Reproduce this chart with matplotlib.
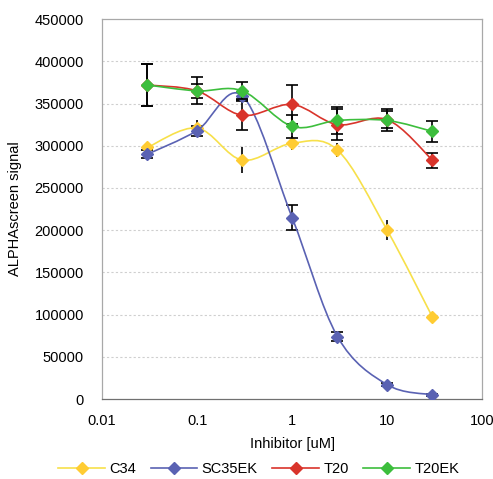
import numpy as np
import matplotlib.pyplot as plt
from matplotlib.path import Path
from matplotlib.patches import PathPatch
from matplotlib.lines import Line2D

# ----- data -----
conc = [0.03, 0.1, 0.3, 1, 3, 10, 30]

c34 = [298000, 321000, 283000, 303000, 295000, 200000, 97000]
c34_err = [7000, 9000, 15000, 8000, 8000, 12000, 4000]

sc35ek = [290000, 318000, 359000, 215000, 74000, 17000, 5000]
sc35ek_err = [5000, 6000, 5000, 15000, 5000, 2000, 1000]

t20 = [372000, 365000, 336000, 349000, 325000, 331000, 283000]
t20_err = [25000, 16000, 17000, 23000, 18000, 10000, 9000]

t20ek = [372000, 365000, 365000, 323000, 330000, 330000, 317000]
t20ek_err = [25000, 8000, 10000, 14000, 16000, 13000, 12000]

names = ["C34", "SC35EK", "T20", "T20EK"]
colors = ["#F7E04A", "#5A62B3", "#D9342B", "#3DBE3D"]
marker_colors = ["#FFCC33", "#5A62B3", "#D9342B", "#3DBE3D"]


def smooth_path(x, y):
    # Excel-like smoothed line: Catmull-Rom bezier in log-x space
    u = np.log10(np.asarray(x, float))
    v = np.asarray(y, float)
    pts = np.column_stack([u, v])
    n = len(pts)
    verts = [pts[0]]
    codes = [Path.MOVETO]
    for i in range(n - 1):
        p0 = pts[max(i - 1, 0)]
        p1 = pts[i]
        p2 = pts[i + 1]
        p3 = pts[min(i + 2, n - 1)]
        c1 = p1 + (p2 - p0) / 6.0
        c2 = p2 - (p3 - p1) / 6.0
        verts += [c1, c2, p2]
        codes += [Path.CURVE4] * 3
    verts = np.array(verts)
    verts[:, 0] = 10 ** verts[:, 0]
    return Path(verts, codes)


plt.rcParams["font.family"] = ["Liberation Sans", "DejaVu Sans"]
plt.rcParams["font.size"] = 10

fig = plt.figure(figsize=(4.93, 4.79), dpi=100)
ax = fig.add_axes([0.207, 0.167, 0.771, 0.793])
ax.set_xscale("log")
ax.set_xlim(0.01, 100)
ax.set_ylim(0, 450000)
ax.set_yticks(np.arange(0, 450001, 50000))
ax.set_xticks([0.01, 0.1, 1, 10, 100])
ax.set_xticklabels(["0.01", "0.1", "1", "10", "100"])
ax.minorticks_off()
ax.tick_params(length=0, labelsize=10.5)
ax.tick_params(axis="y", pad=13)
ax.tick_params(axis="x", pad=11)

for y in range(50000, 450000, 50000):
    ax.axhline(y, color="#CFCFCF", lw=0.8, ls=(0, (2, 2)), zorder=0)
for s in ax.spines.values():
    s.set_color("#A8A8A8")
    s.set_linewidth(0.9)
ax.spines["bottom"].set_color("#707070")

series = [(c34, c34_err), (sc35ek, sc35ek_err), (t20, t20_err), (t20ek, t20ek_err)]
handles = []
for i, (vals, err) in enumerate(series):
    cap = 0 if i == 0 else 4
    ax.errorbar(conc, vals, yerr=err, fmt="none", ecolor="black", elinewidth=1.2,
                capsize=cap, capthick=1.2, zorder=2 + i)
    ax.add_patch(PathPatch(smooth_path(conc, vals), facecolor="none",
                           edgecolor=colors[i], lw=1.2, zorder=3 + i))
    ax.plot(conc, vals, ls="none", marker="D", ms=6.5, color=marker_colors[i],
            mec=marker_colors[i], zorder=4 + i)
    handles.append(Line2D([], [], color=colors[i], lw=1.2, marker="D", ms=6,
                          mfc=marker_colors[i], mec=marker_colors[i]))

ax.set_xlabel("Inhibitor [uM]", fontsize=10.5, labelpad=6)
ax.set_ylabel("ALPHAscreen signal", fontsize=10.5, labelpad=9)

fig.legend(handles, names, loc="center", bbox_to_anchor=(0.525, 0.02), ncol=4,
           frameon=False, fontsize=10.5, handlelength=3.2, columnspacing=1.0,
           handletextpad=0.3)

fig.savefig("out.png", dpi=100)
